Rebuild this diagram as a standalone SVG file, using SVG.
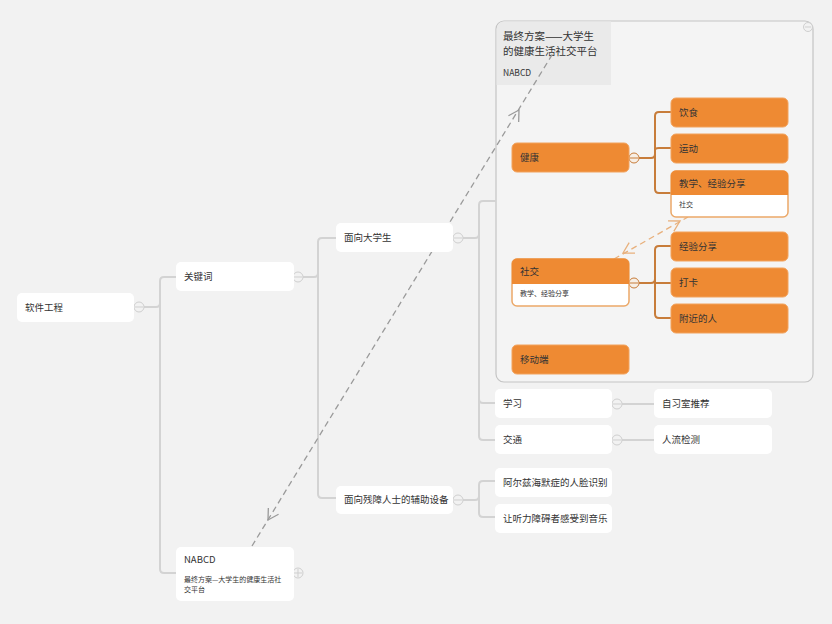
<svg xmlns="http://www.w3.org/2000/svg" width="832" height="624" viewBox="0 0 832 624">
<defs>
<style>
text{font-family:"Noto Sans CJK SC","Liberation Sans",sans-serif;fill:#333;}
.t{font-size:9.5px;}
.s{font-size:7px;}
.w{fill:#fff;}
.o{fill:#EE8A33;stroke:#F2A25C;stroke-width:1;}
.ow{fill:#fff;stroke:#EBA868;stroke-width:1.5;}
.gl{fill:none;stroke:#d3d3d3;stroke-width:2;}
.ol{fill:none;stroke:#C77C3A;stroke-width:2;}
.gc{fill:#f2f2f2;stroke:#cfcfcf;stroke-width:1;}
.oc{fill:#f7efe6;stroke:#C77C3A;stroke-width:1;}
.gm{stroke:#cfcfcf;stroke-width:1;}
.om{stroke:#C77C3A;stroke-width:1;}
.rg{fill:none;stroke:#9a9a9a;stroke-width:1.3;stroke-dasharray:6 4;}
.ro{fill:none;stroke:#E8B07C;stroke-width:1.3;stroke-dasharray:6 4;}
</style>
<marker id="ag" markerUnits="userSpaceOnUse" viewBox="-12 -8 14 16" refX="0" refY="0" markerWidth="14" markerHeight="16" orient="auto">
<path d="M-10.4,-6 L0,0 L-10.4,6" fill="none" stroke="#9a9a9a" stroke-width="1.3"/>
</marker>
<marker id="ao" markerUnits="userSpaceOnUse" viewBox="-12 -8 14 16" refX="0" refY="0" markerWidth="14" markerHeight="16" orient="auto">
<path d="M-10.4,-6 L0,0 L-10.4,6" fill="none" stroke="#E8B07C" stroke-width="1.3"/>
</marker>
</defs>
<rect width="832" height="624" fill="#f2f2f2"/>

<g id="boundary">
<rect x="496" y="21" width="317" height="361" rx="8" fill="#f4f4f4" stroke="#c4c4c4" stroke-width="1.2"/>
<path d="M504,21.6 H611 V85 H496.6 V29 A7.4,7.4 0 0 1 504,21.6 Z" fill="#eaeaea"/>
<text x="503" y="40" style="font-size:10.5px">最终方案——大学生</text>
<text x="503" y="55" style="font-size:10.5px">的健康生活社交平台</text>
<text x="503" y="76" style="font-size:8.5px">NABCD</text>
<circle class="gc" cx="808" cy="27" r="4.5"/><line class="gm" x1="805" y1="27" x2="811" y2="27"/>
</g>

<g id="connectors">
<path class="gl" d="M144,307 H156 Q160,307 160,303 V281 Q160,277 164,277 H176"/>
<path class="gl" d="M160,303 V569 Q160,573 164,573 H176"/>
<path class="gl" d="M303,277 H314 Q318,277 318,273 V242 Q318,238 322,238 H336"/>
<path class="gl" d="M318,273 V494 Q318,498 322,498 H336"/>
<path class="gl" d="M463,238 H475 Q479,238 479,234 V205 Q479,201 483,201 H496"/>
<path class="gl" d="M479,234 V399 Q479,403 483,403 H495"/>
<path class="gl" d="M479,399 V436 Q479,440 483,440 H495"/>
<path class="gl" d="M622,404 H654"/>
<path class="gl" d="M622,440 H654"/>
<path class="gl" d="M463,500 H475 Q479,500 479,496 V485 Q479,481 483,481 H495"/>
<path class="gl" d="M479,496 V513 Q479,517 483,517 H495"/>
<path class="ol" d="M639,158 H651 Q655,158 655,154 V116 Q655,112 659,112 H671"/>
<path class="ol" d="M655,154 V189 Q655,193 659,193 H671"/>
<path class="ol" d="M655,150 Q655,148 659,148 H671"/>
<path class="ol" d="M639,283 H651 Q655,283 655,279 V250 Q655,246 659,246 H671"/>
<path class="ol" d="M655,279 V314 Q655,318 659,318 H671"/>
<path class="ol" d="M655,283 H671"/>
<path class="rg" d="M252,546 L555,50"/>
<path d="M276,507 L268,520" fill="none" stroke="none" marker-end="url(#ag)"/>
<path d="M511,123 L519,110" fill="none" stroke="none" marker-end="url(#ag)"/>
<path class="ro" d="M614,259 L688,217"/>
<path d="M632,248 L623,253" fill="none" stroke="none" marker-end="url(#ao)"/>
<path d="M671,226 L680,221" fill="none" stroke="none" marker-end="url(#ao)"/>
<circle class="gc" cx="139" cy="307" r="5"/><line class="gm" x1="135" y1="307" x2="143" y2="307"/>
<circle class="gc" cx="298" cy="277" r="5"/><line class="gm" x1="294" y1="277" x2="302" y2="277"/>
<circle class="gc" cx="458" cy="238" r="5"/><line class="gm" x1="454" y1="238" x2="462" y2="238"/>
<circle class="gc" cx="458" cy="500" r="5"/><line class="gm" x1="454" y1="500" x2="462" y2="500"/>
<circle class="gc" cx="617" cy="404" r="5"/><line class="gm" x1="613" y1="404" x2="621" y2="404"/>
<circle class="gc" cx="617" cy="440" r="5"/><line class="gm" x1="613" y1="440" x2="621" y2="440"/>
<circle class="gc" cx="298" cy="573" r="5"/><line class="gm" x1="294" y1="573" x2="302" y2="573"/><line class="gm" x1="298" y1="569" x2="298" y2="577"/>
<circle class="oc" cx="634" cy="158" r="5"/><line class="om" x1="630" y1="158" x2="638" y2="158"/>
<circle class="oc" cx="634" cy="283" r="5"/><line class="om" x1="630" y1="283" x2="638" y2="283"/>
</g>

<g id="n-ruanjian"><rect class="w" x="17" y="293" width="117" height="29" rx="5"/><text class="t" x="25" y="311">软件工程</text></g>
<g id="n-guanjianci"><rect class="w" x="176" y="262" width="118" height="29" rx="5"/><text class="t" x="184" y="280">关键词</text></g>
<g id="n-daxuesheng"><rect class="w" x="336" y="223" width="117" height="29" rx="5"/><text class="t" x="344" y="241">面向大学生</text></g>
<g id="n-canzhang"><rect class="w" x="336" y="486" width="117" height="28" rx="5"/><text class="t" x="344" y="503">面向残障人士的辅助设备</text></g>
<g id="n-nabcd"><rect class="w" x="176" y="547" width="118" height="54" rx="5"/><text class="t" x="184" y="563">NABCD</text><text class="s" x="184" y="582">最终方案—大学生的健康生活社</text><text class="s" x="184" y="592">交平台</text></g>
<g id="n-xuexi"><rect class="w" x="495" y="389" width="117" height="29" rx="5"/><text class="t" x="503" y="407">学习</text></g>
<g id="n-jiaotong"><rect class="w" x="495" y="425" width="117" height="29" rx="5"/><text class="t" x="503" y="443">交通</text></g>
<g id="n-zixishi"><rect class="w" x="654" y="389" width="118" height="29" rx="5"/><text class="t" x="662" y="407">自习室推荐</text></g>
<g id="n-renliu"><rect class="w" x="654" y="425" width="118" height="29" rx="5"/><text class="t" x="662" y="443">人流检测</text></g>
<g id="n-aerzi"><rect class="w" x="495" y="468" width="117" height="29" rx="5"/><text class="t" x="503" y="486">阿尔兹海默症的人脸识别</text></g>
<g id="n-tingli"><rect class="w" x="495" y="504" width="117" height="29" rx="5"/><text class="t" x="503" y="522">让听力障碍者感受到音乐</text></g>

<g id="n-jiankang"><rect class="o" x="512" y="143" width="117" height="29" rx="5"/><text class="t" x="520" y="161">健康</text></g>
<g id="n-yinshi"><rect class="o" x="671" y="98" width="117" height="29" rx="5"/><text class="t" x="679" y="116">饮食</text></g>
<g id="n-yundong"><rect class="o" x="671" y="134" width="117" height="29" rx="5"/><text class="t" x="679" y="152">运动</text></g>
<g id="n-jiaoxue"><rect class="ow" x="671" y="171" width="117" height="46" rx="5"/><path d="M676,170.5 H783 A5,5 0 0 1 788,175.5 V195 H671 V175.5 A5,5 0 0 1 676,170.5 Z" fill="#EE8A33"/><text class="t" x="679" y="187">教学、经验分享</text><text class="s" x="679" y="207">社交</text></g>
<g id="n-shejiao"><rect class="ow" x="512" y="259" width="117" height="47" rx="5"/><path d="M517,258.5 H624 A5,5 0 0 1 629,263.5 V284 H512 V263.5 A5,5 0 0 1 517,258.5 Z" fill="#EE8A33"/><text class="t" x="520" y="275">社交</text><text class="s" x="520" y="296">教学、经验分享</text></g>
<g id="n-jingyan"><rect class="o" x="671" y="232" width="117" height="29" rx="5"/><text class="t" x="679" y="250">经验分享</text></g>
<g id="n-daka"><rect class="o" x="671" y="268" width="117" height="29" rx="5"/><text class="t" x="679" y="286">打卡</text></g>
<g id="n-fujin"><rect class="o" x="671" y="304" width="117" height="29" rx="5"/><text class="t" x="679" y="322">附近的人</text></g>
<g id="n-yidong"><rect class="o" x="512" y="345" width="117" height="29" rx="5"/><text class="t" x="520" y="363">移动端</text></g>
</svg>
